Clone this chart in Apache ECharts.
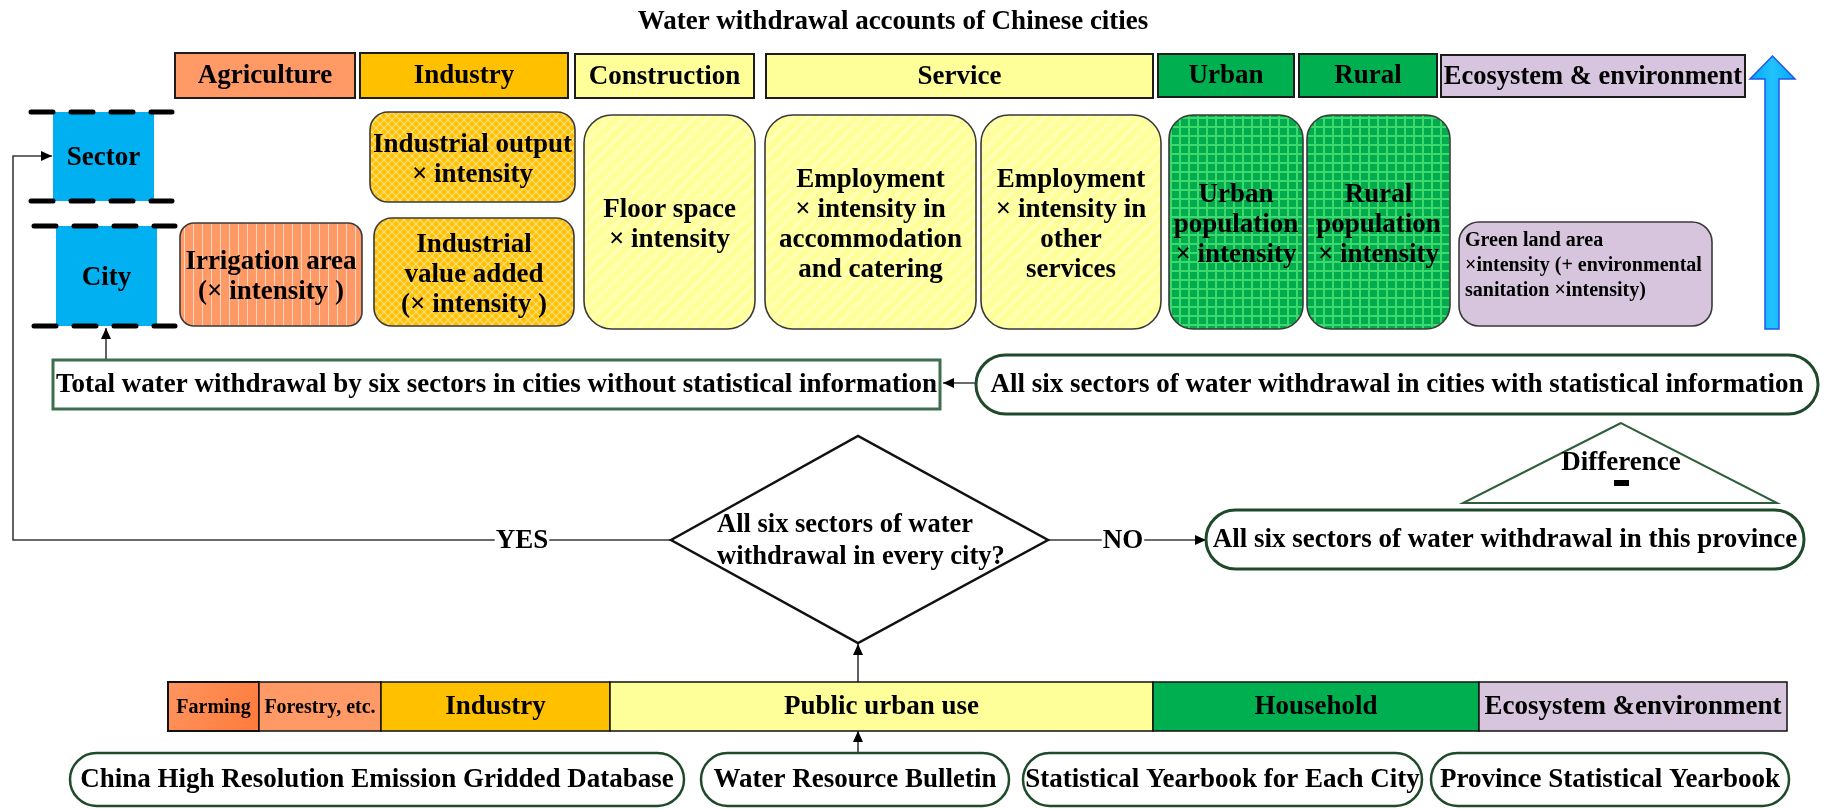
<!DOCTYPE html>
<html><head><meta charset="utf-8">
<script src="https://cdn.jsdelivr.net/npm/echarts@6/dist/echarts.min.js"></script>
<style>html,body{margin:0;padding:0;background:#fff}#c{width:1825px;height:809px}</style>
</head><body><div id="c"></div>
<script>
// ---------- texts (content) ----------
const chartTitle = 'Water withdrawal accounts of Chinese cities';
const sectorHeaders = ['Agriculture','Industry','Construction','Service','Urban','Rural','Ecosystem & environment'];
const levelLabels = ['Sector','City'];
const methodLabels = [
  'Irrigation area\n(× intensity )',
  'Industrial output\n× intensity',
  'Industrial\nvalue added\n(× intensity )',
  'Floor space\n× intensity',
  'Employment\n× intensity in\naccommodation\nand catering',
  'Employment\n× intensity in\nother\nservices',
  'Urban\npopulation\n× intensity',
  'Rural\npopulation\n× intensity',
  'Green land area\n×intensity (+ environmental\nsanitation ×intensity)'
];
const resultTexts = [
  'Total water withdrawal by six sectors in cities without statistical information',
  'All six sectors of water withdrawal in cities with statistical information',
  'All six sectors of water withdrawal in this province'
];
const decisionText = 'All six sectors of water\nwithdrawal in every city?';
const branchLabels = ['YES','NO'];
const differenceLabel = 'Difference';
const provinceSectors = ['Farming','Forestry, etc.','Industry','Public urban use','Household','Ecosystem &environment'];
const dataSources = ['China High Resolution Emission Gridded Database','Water Resource Bulletin','Statistical Yearbook for Each City','Province Statistical Yearbook'];

// ---------- layout (diagram units on the hidden axes) ----------
const headerBoxes = [[175,53,355,98],[360,53,568,98],[575,54,754,98],[766,54,1153,98],[1158,54,1294,97],[1299,54,1437,97],[1441,55,1745,97]];
const levelBoxes = [[53,112,154,201],[56,226,157,326]];
const methodBoxes = [[180,223,362,326],[370,112,575,202],[374,218,574,326],[584,115,755,329],[765,115,976,329],[981,115,1161,329],[1169,115,1303,329],[1307,115,1450,329],[1459,222,1712,326]];
const resultBoxes = [[53,360,940,409],[976,355,1818,414],[1206,510,1804,569]];
const barEdges = [168,259,381,610,1153,1479,1787];
const barBand = [682,731];
const sourceBoxes = [[70,753,684,806],[701,753,1009,806],[1023,753,1422,806],[1431,753,1789,806]];
const connectorPaths = [
  [[671,540],[13,540],[13,156],[52,156]],
  [[106,360],[106,328]],
  [[976,383],[943,383]],
  [[1048,540],[1206,540]],
  [[858,682],[858,644]],
  [[858,753],[858,731]]
];
const branchPos = [[522,541],[1123,541]];
const diamond = [[671,540],[858,436],[1048,540],[858,643]];
const triangle = [[1621,423],[1463,503],[1777,503]];
const blueArrow = [[1765,329],[1765,79],[1750,79],[1772.5,56],[1795,79],[1779,79],[1779,329]];

// ---------- styles ----------
const FONT = '"Liberation Serif","Times New Roman",serif';
const fnt = s => `bold ${s}px ${FONT}`;
function makePattern(w, h, draw) {
  const c = document.createElement('canvas'); c.width = w; c.height = h;
  draw(c.getContext('2d'), w, h); return {image: c, repeat: 'repeat'};
}
const patHatch = makePattern(8, 8, (g) => {
  g.fillStyle = '#FFC000'; g.fillRect(0,0,8,8);
  g.strokeStyle = '#FFE28A'; g.lineWidth = 1.1;
  g.beginPath(); g.moveTo(0,0); g.lineTo(8,8); g.moveTo(8,0); g.lineTo(0,8); g.stroke();
});
const patStripe = makePattern(9, 4, (g) => {
  g.fillStyle = '#FF9966'; g.fillRect(0,0,9,4);
  g.fillStyle = '#FFD6BE'; g.fillRect(4,0,1,4);
});
const patDiag = makePattern(14, 14, (g) => {
  g.fillStyle = '#FFFF99'; g.fillRect(0,0,14,14);
  g.strokeStyle = '#FFFFB6'; g.lineWidth = 3.5;
  g.beginPath(); g.moveTo(0,14); g.lineTo(14,0); g.moveTo(-7,7); g.lineTo(7,-7); g.moveTo(7,21); g.lineTo(21,7); g.stroke();
});
const patGrid = makePattern(9, 9, (g) => {
  g.fillStyle = '#00AC4E'; g.fillRect(0,0,9,9);
  g.fillStyle = '#3ED96C'; g.fillRect(0,0,9,2); g.fillRect(0,0,2,9);
});
const headerFills = ['#FF9966','#FFC000','#FFFF99','#FFFF99','#00B050','#00B050','#D7C4DE'];
const methodFills = [patStripe, patHatch, patHatch, patDiag, patDiag, patDiag, patGrid, patGrid, '#D7C5DE'];
const methodRadius = [14,18,18,28,28,28,24,24,20];
const barFills = [
  {type:'linear',x:0,y:0,x2:1,y2:1,colorStops:[{offset:0,color:'#FF9560'},{offset:1,color:'#FF7A3A'}]},
  '#FF9966','#FFC000','#FFFF99','#00B050','#D7C5DE'];
const barFont = [20,20,27,27,27,27];

function txt(text, x, y, size, extra) {
  return {type:'text', style:Object.assign({text, x, y, font:fnt(size), fill:'#000', align:'center', verticalAlign:'middle', lineHeight:Math.round(size*1.12)}, extra || {})};
}
function boxSeries(name, boxes, draw, z) {
  return {
    type:'custom', name, coordinateSystem:'cartesian2d', silent:true, clip:false, z: z || 2,
    encode:{x:[0,2], y:[1,3]},
    data: boxes.map(b => b.slice()),
    renderItem: (params, api) => {
      const p0 = api.coord([api.value(0), api.value(1)]);
      const p1 = api.coord([api.value(2), api.value(3)]);
      return draw(params.dataIndex, p0[0], p0[1], p1[0]-p0[0], p1[1]-p0[1], api);
    }
  };
}
function shapeSeries(name, anchors, draw, z) {
  return {
    type:'custom', name, coordinateSystem:'cartesian2d', silent:true, clip:false, z: z || 2,
    encode:{x:0, y:1}, data: anchors,
    renderItem: (params, api) => draw(params.dataIndex, api)
  };
}
function arrowHead(a, b, len, half) {
  const dx = b[0]-a[0], dy = b[1]-a[1], L = Math.hypot(dx,dy), ux = dx/L, uy = dy/L;
  const bx = b[0]-ux*len, by = b[1]-uy*len;
  return [[b[0],b[1]],[bx-uy*half, by+ux*half],[bx+uy*half, by-ux*half]];
}

const series = [];
// title
series.push(shapeSeries('title', [[893,22]], (i, api) => {
  const p = api.coord([893,22]);
  return txt(chartTitle, p[0], p[1], 27);
}));
// header boxes
series.push(boxSeries('headers', headerBoxes, (i,x,y,w,h) => ({type:'group', children:[
  {type:'rect', shape:{x,y,width:w,height:h}, style:{fill:headerFills[i], stroke:'#1c1c1c', lineWidth:2}},
  txt(sectorHeaders[i], x+w/2, y+h/2+1, i===6 ? 26.5 : 27)
]})));
// Sector / City
series.push(boxSeries('levels', levelBoxes, (i,x,y,w,h) => {
  const dash = (yy) => ({type:'line', shape:{x1:x-22, y1:yy, x2:x+w+18, y2:yy}, style:{stroke:'#000', lineWidth:5, lineDash:[22,18], lineCap:'round'}});
  return {type:'group', children:[
    {type:'rect', shape:{x,y,width:w,height:h}, style:{fill:'#00B0F0'}},
    dash(y), dash(y+h),
    txt(levelLabels[i], x+w/2, y+h/2+2, 27)
  ]};
}));
// method boxes
series.push(boxSeries('methods', methodBoxes, (i,x,y,w,h) => {
  const children = [{type:'rect', shape:{x,y,width:w,height:h,r:methodRadius[i]}, style:{fill:methodFills[i], stroke:'#3a3a3a', lineWidth:1.6}}];
  if (i === 8) children.push(txt(methodLabels[i], x+6, y+h/2-8, 20, {align:'left', lineHeight:25}));
  else children.push(txt(methodLabels[i], x+w/2, y+h/2+3, 27, {lineHeight:30}));
  return {type:'group', children};
}));
// result boxes
series.push(boxSeries('results', resultBoxes, (i,x,y,w,h) => ({type:'group', children:[
  {type:'rect', shape:{x,y,width:w,height:h,r: i===0 ? 0 : h/2}, style:{fill:'#fff', stroke: i===0 ? '#3E6E4E' : '#1E4A2A', lineWidth:3}},
  txt(resultTexts[i], x+w/2, y+h/2+1, 27)
]})));
// province bar
const barBoxes = provinceSectors.map((s,i) => [barEdges[i], barBand[0], barEdges[i+1], barBand[1]]);
series.push(boxSeries('provinceBar', barBoxes, (i,x,y,w,h) => ({type:'group', children:[
  {type:'rect', shape:{x,y,width:w,height:h}, style:{fill:barFills[i], stroke:'#111', lineWidth: i===0 ? 2 : 1.5}},
  txt(provinceSectors[i], x+w/2, y+h/2+1, barFont[i])
]})));
// sources
series.push(boxSeries('sources', sourceBoxes, (i,x,y,w,h) => ({type:'group', children:[
  {type:'rect', shape:{x,y,width:w,height:h,r:h/2}, style:{fill:'#fff', stroke:'#1E4A2A', lineWidth:2.5}},
  txt(dataSources[i], x+w/2, y+h/2+1, 27)
]})));
// connectors
series.push(shapeSeries('connectors', connectorPaths.map(p => p[0].slice()), (i, api) => {
  const pts = connectorPaths[i].map(q => api.coord(q));
  const a = pts[pts.length-2], b = pts[pts.length-1];
  return {type:'group', children:[
    {type:'polyline', shape:{points:pts}, style:{stroke:'#3a3a3a', lineWidth:1.6, fill:null}},
    {type:'polygon', shape:{points:arrowHead(a,b,11,5)}, style:{fill:'#000'}}
  ]};
}, 1));
// branch labels
series.push(shapeSeries('branches', branchPos.map(p => p.slice()), (i, api) => {
  const p = api.coord(branchPos[i]);
  return txt(branchLabels[i], p[0], p[1], 27, {backgroundColor:'#fff', padding:[0,1]});
}, 3));
// decision diamond
series.push(shapeSeries('decision', [diamond[0].slice()], (i, api) => {
  const pts = diamond.map(q => api.coord(q));
  const t = api.coord([717, 541]);
  return {type:'group', children:[
    {type:'polygon', shape:{points:pts}, style:{fill:'#fff', stroke:'#111', lineWidth:2.5}},
    txt(decisionText, t[0], t[1], 26.5, {align:'left', lineHeight:32})
  ]};
}));
// difference triangle
series.push(shapeSeries('difference', [triangle[0].slice()], (i, api) => {
  const pts = triangle.map(q => api.coord(q));
  const t = api.coord([1621, 463]);
  const m0 = api.coord([1614, 480]), m1 = api.coord([1629, 486]);
  return {type:'group', children:[
    {type:'polygon', shape:{points:pts}, style:{fill:'#fff', stroke:'#2E5E3A', lineWidth:2}},
    txt(differenceLabel, t[0], t[1], 27),
    {type:'rect', shape:{x:m0[0], y:m0[1], width:m1[0]-m0[0], height:m1[1]-m0[1]}, style:{fill:'#000'}}
  ]};
}));
// blue upward arrow
series.push(shapeSeries('upArrow', [blueArrow[0].slice()], (i, api) => {
  const pts = blueArrow.map(q => api.coord(q));
  return {type:'polygon', shape:{points:pts}, style:{fill:{type:'linear',x:0,y:0,x2:1,y2:0,colorStops:[{offset:0,color:'#00A8F0'},{offset:0.5,color:'#22C2FF'},{offset:1,color:'#00A8F0'}]}, stroke:'#2255EE', lineWidth:1.5}};
}));

const chart = echarts.init(document.getElementById('c'), null, {renderer:'canvas'});
chart.setOption({
  animation:false,
  backgroundColor:'#fff',
  grid:{left:0, right:0, top:0, bottom:0},
  xAxis:{type:'value', min:0, max:1825, show:false},
  yAxis:{type:'value', min:0, max:809, inverse:true, show:false},
  series
});
</script></body></html>
